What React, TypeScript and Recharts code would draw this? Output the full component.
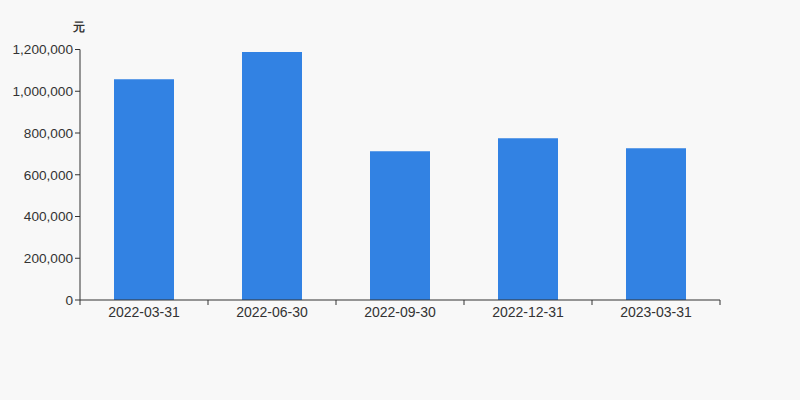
import React from 'react';
import { BarChart, Bar, XAxis, YAxis } from 'recharts';

const categories = ['2022-03-31', '2022-06-30', '2022-09-30', '2022-12-31', '2023-03-31'];
const values = [1057000, 1188000, 712000, 775000, 727000];
const yTicks = [0, 200000, 400000, 600000, 800000, 1000000, 1200000];
const boundaryTicks = [0, 1, 2, 3, 4, 5];

const data = categories.map((c, i) => ({ date: c, value: values[i], pos: i + 0.5 }));

const fmt = (v: number) => v.toLocaleString('en-US');

export default function App() {
  return (
    <div style={{ position: 'absolute', left: 0, top: 0, width: 800, height: 400, background: '#f8f8f8', fontFamily: '"Liberation Sans", Arial, sans-serif' }}>
      <div style={{ position: 'absolute', left: 73, top: 19, fontSize: 12, fontWeight: 'bold', color: '#333' }}>元</div>
      <BarChart width={800} height={400} data={data} margin={{ top: 49.5, right: 80, bottom: 69, left: 0 }}>
        <XAxis xAxisId="a" dataKey="pos" type="number" domain={[0, 5]} ticks={boundaryTicks} tickFormatter={() => ''} tickLine={{ stroke: '#333' }} axisLine={{ stroke: '#333' }} height={1} tickSize={5} allowDataOverflow />
        <XAxis xAxisId="z" dataKey="date" tickLine={false} axisLine={false} height={30} tick={{ fill: '#333', fontSize: 14 }} tickMargin={0} interval={0} />
        <YAxis domain={[0, 1200000]} ticks={yTicks} tickFormatter={fmt} width={80} axisLine={{ stroke: '#333' }} tickLine={{ stroke: '#333' }} tickSize={5} tick={{ fill: '#333', fontSize: 13.6 }} tickMargin={2} />
        <Bar xAxisId="z" dataKey="value" fill="#3282e3" barSize={60} isAnimationActive={false} />
      </BarChart>
    </div>
  );
}
